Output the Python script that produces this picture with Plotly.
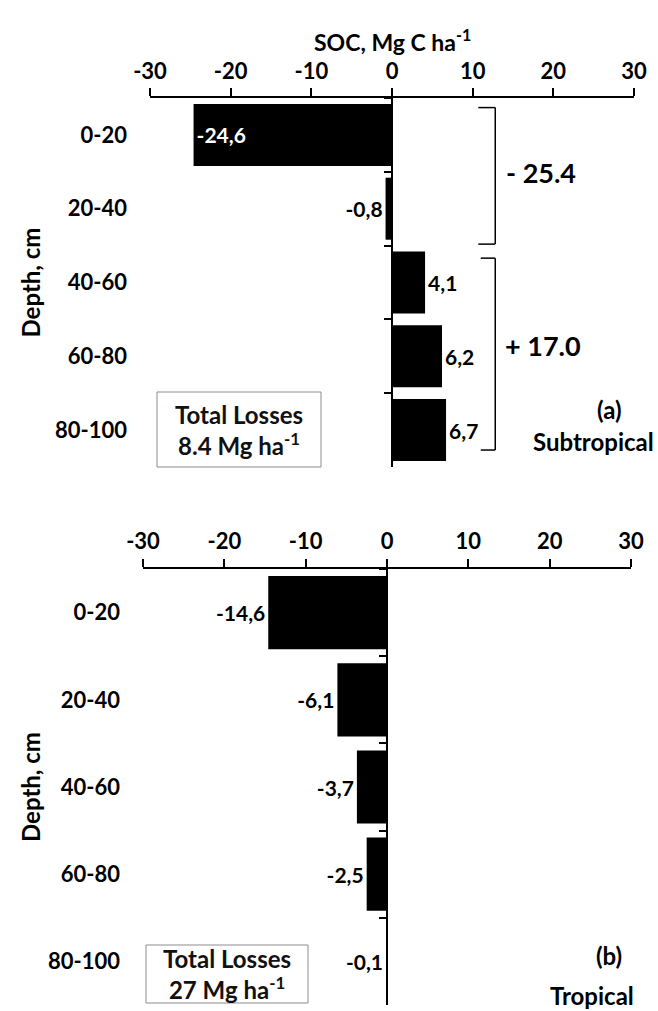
import plotly.graph_objects as go

# ---------------- data ----------------
depths = ["0-20", "20-40", "40-60", "60-80", "80-100"]
soc_subtropical = [-24.6, -0.8, 4.1, 6.2, 6.7]
soc_tropical = [-14.6, -6.1, -3.7, -2.5, -0.1]
x_ticks = [-30, -20, -10, 0, 10, 20, 30]
x_tick_text = ["-30", "-20", "-10", "0", "10", "20", "30"]
sub_groups = [[0, 1], [2, 3, 4]]           # bracketed depth groups (indices)
x_title = "SOC, Mg C ha<sup>-1</sup>"
y_title = "Depth, cm"
total_sub_text = "Total Losses<br>8.4 Mg ha<sup>-1</sup>"
total_trop_text = "Total Losses<br>27 Mg ha<sup>-1</sup>"
panel_a = ["(a)", "Subtropical"]
panel_b = ["(b)", "Tropical"]

FONT = "Lato"
W, H = 658, 1011

# layout geometry (pixels)
top_x = (150, 634)
bot_x = (143, 631)
top_y = (98, 467)
bot_y = (569, 1005)


def xd(px):
    return (px[0] / W, px[1] / W)


def yd(py):
    return ((H - py[1]) / H, (H - py[0]) / H)


def fmt(v):
    return f"{v:.1f}".replace(".", ",")


def bar_trace(vals, xa, ya, inside_first=False):
    pos = []
    for i, v in enumerate(vals):
        pos.append("inside" if (inside_first and i == 0) else "outside")
    return go.Bar(
        x=vals, y=depths, orientation="h", xaxis=xa, yaxis=ya,
        marker=dict(color="black", line=dict(width=0)),
        text=[fmt(v) for v in vals], textposition=pos,
        insidetextanchor="end",
        insidetextfont=dict(family=FONT, size=21, color="white", weight="bold"),
        outsidetextfont=dict(family=FONT, size=21, color="black", weight="bold"),
        constraintext="none", cliponaxis=False, showlegend=False,
        hoverinfo="skip",
    )


fig = go.Figure()
fig.add_trace(bar_trace(soc_subtropical, "x", "y", inside_first=True))
fig.add_trace(bar_trace(soc_tropical, "x2", "y2"))
# invisible helpers so the zero-line category axes are drawn
fig.add_trace(go.Scatter(x=[0] * len(depths), y=depths, xaxis="x", yaxis="y3",
                         mode="markers", marker=dict(opacity=0), showlegend=False,
                         hoverinfo="skip"))
fig.add_trace(go.Scatter(x=[0] * len(depths), y=depths, xaxis="x2", yaxis="y4",
                         mode="markers", marker=dict(opacity=0), showlegend=False,
                         hoverinfo="skip"))

tickfont = dict(family=FONT, size=22, color="black", weight="bold")
xr = [x_ticks[0], x_ticks[-1]]
yr = [len(depths) - 0.5, -0.5]

xcommon = dict(range=xr, tickvals=x_ticks, ticktext=x_tick_text, side="top",
               ticks="outside", ticklen=8, tickwidth=1.5, tickcolor="black",
               showline=True, linecolor="black", linewidth=1.5, showgrid=False,
               zeroline=False, tickfont=tickfont, automargin=False, fixedrange=True)

ycommon = dict(type="category", categoryarray=depths, range=yr, showline=False,
               ticks="", showgrid=False, zeroline=False, tickfont=tickfont,
               ticklabelstandoff=22, automargin=False)

zcommon = dict(type="category", categoryarray=depths, range=yr, showline=True,
               linecolor="black", linewidth=1.5, ticks="outside", ticklen=7,
               tickwidth=1.5, tickcolor="black", tickson="boundaries",
               showticklabels=False, showgrid=False, zeroline=False,
               anchor="free", automargin=False)

dx1, dx2 = xd(top_x), xd(bot_x)
fig.update_layout(
    width=W, height=H, margin=dict(l=0, r=0, t=0, b=0),
    paper_bgcolor="white", plot_bgcolor="white", bargap=0.16,
    xaxis=dict(domain=dx1, anchor="y", ticklabelstandoff=0, **xcommon),
    xaxis2=dict(domain=dx2, anchor="y2", ticklabelstandoff=1, **xcommon),
    yaxis=dict(domain=yd(top_y), anchor="x", **ycommon),
    yaxis2=dict(domain=yd(bot_y), anchor="x2", **ycommon),
    yaxis3=dict(overlaying="y", position=(dx1[0] + dx1[1]) / 2, **zcommon),
    yaxis4=dict(overlaying="y2", position=(dx2[0] + dx2[1]) / 2, **zcommon),
)

# x-axis title (top)
fig.add_annotation(x=(dx1[0] + dx1[1]) / 2, y=1 - 40 / H, xref="paper", yref="paper",
                   text=x_title, showarrow=False, xanchor="center", yanchor="middle",
                   font=dict(family=FONT, size=23, color="black", weight="bold"))

# brackets for the subtropical panel
br_x = [(10.7, 12.8), (11.0, 12.8)]
br_pad = [(-0.37, 0.48), (-0.33, 0.27)]
br_label_x = [18.5, 18.7]
br_label_dy = [-0.05, -0.12]
for g, (xa, xb), (p0, p1), lx, dy in zip(sub_groups, br_x, br_pad, br_label_x, br_label_dy):
    y0 = g[0] + p0
    y1 = g[-1] + p1
    line = dict(color="black", width=1.5)
    fig.add_shape(type="line", xref="x", yref="y", x0=xa, x1=xb, y0=y0, y1=y0, line=line)
    fig.add_shape(type="line", xref="x", yref="y", x0=xb, x1=xb, y0=y0, y1=y1, line=line)
    fig.add_shape(type="line", xref="x", yref="y", x0=xa, x1=xb, y0=y1, y1=y1, line=line)
    s = sum(soc_subtropical[i] for i in g)
    label = ("- " if s < 0 else "+ ") + f"{abs(s):.1f}"
    fig.add_annotation(x=lx, y=(y0 + y1) / 2 + dy, xref="x", yref="y",
                       text=label, showarrow=False, xanchor="center", yanchor="middle",
                       font=dict(family=FONT, size=27, color="black", weight="bold"))

pfont = dict(family=FONT, size=24, color="black", weight="bold")
panel_labels = [
    (27.0, 3.72, "x", "y", panel_a[0]),
    (25.0, 4.15, "x", "y", panel_a[1]),
    (27.3, 3.93, "x2", "y2", panel_b[0]),
    (25.2, 4.39, "x2", "y2", panel_b[1]),
]
for px, py, xr_, yr_, txt in panel_labels:
    fig.add_annotation(x=px, y=py, xref=xr_, yref=yr_, text=txt, showarrow=False,
                       xanchor="center", yanchor="middle", font=pfont)

# "Total Losses" boxes
bfont = dict(family=FONT, size=24, color="#111111", weight="bold")
boxes = [((157, 392, 321, 467), total_sub_text), ((146, 945, 308, 1003), total_trop_text)]
for (bx0, by0, bx1, by1), txt in boxes:
    fig.add_shape(type="rect", xref="paper", yref="paper",
                  x0=bx0 / W, x1=bx1 / W, y0=1 - by1 / H, y1=1 - by0 / H,
                  line=dict(color="#8c8c8c", width=1), fillcolor="white", layer="above")
    fig.add_annotation(x=(bx0 + bx1) / 2 / W, y=1 - (by0 + by1) / 2 / H,
                       xref="paper", yref="paper", text=txt, showarrow=False,
                       xanchor="center", yanchor="middle", font=bfont)

# y-axis titles
tfont = dict(family=FONT, size=24, color="black", weight="bold")
for dom in (yd(top_y), yd(bot_y)):
    fig.add_annotation(x=30 / W, y=(dom[0] + dom[1]) / 2, xref="paper", yref="paper",
                       text=y_title, textangle=-90, showarrow=False,
                       xanchor="center", yanchor="middle", font=tfont)

fig.write_html("out.html", config={"displayModeBar": False},
               post_script="document.body.style.margin='0';document.body.style.padding='0';")
